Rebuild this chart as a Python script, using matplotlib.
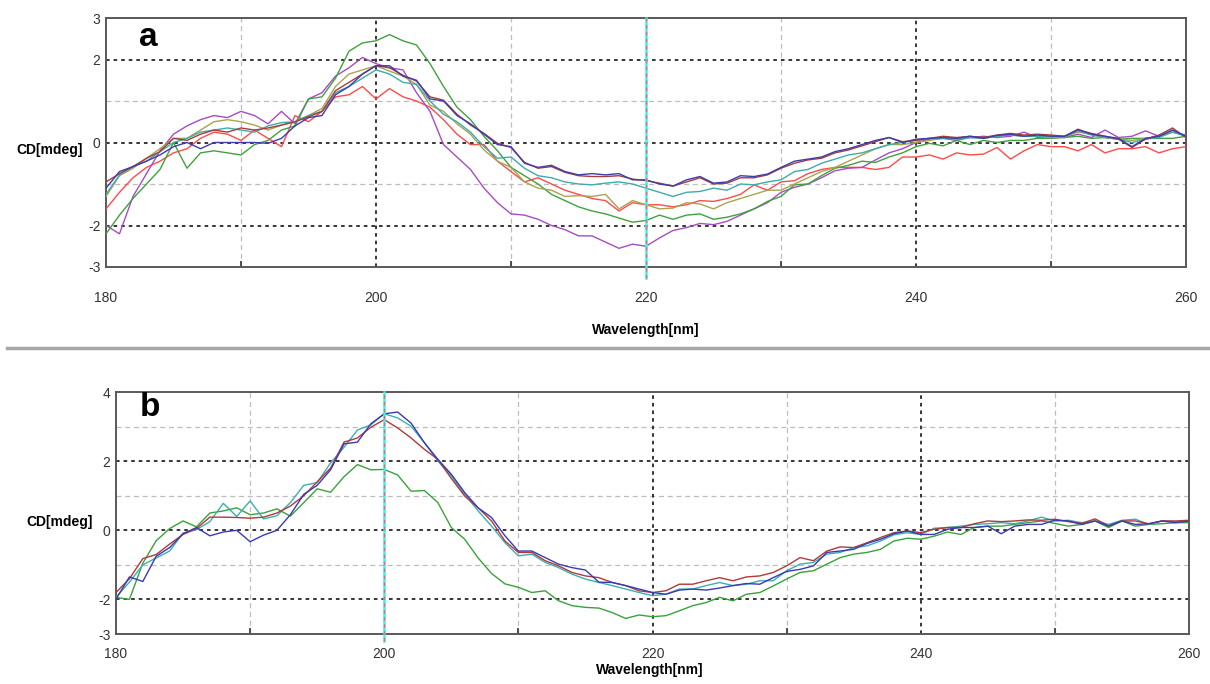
import matplotlib
matplotlib.use("Agg")
import matplotlib.pyplot as plt
from matplotlib.lines import Line2D
from matplotlib import font_manager
import numpy as np

# ---------------- data ----------------
wavelength = list(range(180, 261))

# Panel a
a_blue = [-1.1, -0.7, -0.58, -0.45, -0.3, -0.1, 0.0, -0.15, 0.0, 0.0, 0.0, 0.0, -0.02, 0.1, 0.4, 0.6, 0.65, 1.15, 1.35, 1.65, 1.85,
          1.85, 1.6, 1.5, 1.05, 1.0, 0.65, 0.45, 0.2, -0.05, -0.1, -0.5, -0.6, -0.55, -0.7, -0.78, -0.75, -0.78, -0.75, -0.9, -0.9,
          -1.0, -1.05, -0.9, -0.82, -0.98, -0.95, -0.8, -0.82, -0.76, -0.6, -0.45, -0.4, -0.35, -0.22, -0.15, -0.05, 0.05, 0.12, 0.0, 0.08,
          0.1, 0.12, 0.1, 0.15, 0.1, 0.17, 0.2, 0.15, 0.18, 0.15, 0.15, 0.32, 0.2, 0.15, 0.1, -0.1, 0.1, 0.15, 0.3, 0.15]
a_brown = [-0.95, -0.75, -0.58, -0.38, -0.22, 0.1, 0.05, 0.2, 0.3, 0.25, 0.35, 0.3, 0.35, 0.42, 0.5, 0.62, 0.75, 1.25, 1.45, 1.65, 1.85,
           1.8, 1.62, 1.48, 1.1, 1.02, 0.68, 0.42, 0.22, -0.02, -0.12, -0.48, -0.62, -0.58, -0.72, -0.8, -0.82, -0.82, -0.8, -0.88, -0.92,
           -0.98, -1.05, -0.95, -0.85, -1.0, -0.98, -0.85, -0.85, -0.78, -0.62, -0.5, -0.42, -0.38, -0.25, -0.18, -0.08, 0.02, 0.12, 0.02, 0.05,
           0.1, 0.15, 0.12, 0.15, 0.12, 0.18, 0.22, 0.18, 0.2, 0.18, 0.15, 0.3, 0.22, 0.15, 0.08, -0.12, 0.08, 0.18, 0.35, 0.12]
a_cyan = [-1.25, -0.78, -0.58, -0.45, -0.22, 0.0, 0.1, 0.25, 0.3, 0.35, 0.3, 0.25, 0.4, 0.48, 0.5, 0.65, 0.75, 1.2, 1.35, 1.55, 1.75,
          1.65, 1.45, 1.4, 1.0, 0.68, 0.5, 0.25, -0.1, -0.38, -0.35, -0.62, -0.8, -0.85, -0.95, -1.0, -1.02, -0.98, -0.95, -1.0, -1.1,
          -1.2, -1.3, -1.2, -1.18, -1.1, -1.15, -1.0, -1.02, -0.95, -0.9, -0.7, -0.65, -0.5, -0.4, -0.3, -0.25, -0.15, -0.05, 0.0, 0.05,
          0.1, 0.1, 0.08, 0.12, 0.1, 0.15, 0.18, 0.15, 0.15, 0.15, 0.12, 0.28, 0.18, 0.12, 0.08, 0.0, 0.08, 0.12, 0.25, 0.15]
a_olive = [-1.3, -0.8, -0.62, -0.38, -0.15, 0.1, 0.1, 0.3, 0.5, 0.55, 0.5, 0.42, 0.3, 0.42, 0.5, 0.65, 0.82, 1.35, 1.65, 1.75, 1.85,
           1.72, 1.6, 1.4, 0.9, 0.75, 0.45, 0.2, -0.18, -0.45, -0.6, -0.95, -1.1, -1.15, -1.3, -1.28, -1.3, -1.25, -1.6, -1.4, -1.5,
           -1.6, -1.58, -1.45, -1.48, -1.6, -1.45, -1.35, -1.25, -1.15, -1.15, -1.0, -0.85, -0.7, -0.6, -0.45, -0.3, -0.15, -0.05, -0.05, 0.0,
           0.05, 0.1, 0.1, 0.12, 0.1, 0.15, 0.18, 0.15, 0.15, 0.12, 0.15, 0.25, 0.2, 0.12, 0.08, 0.05, 0.1, 0.15, 0.3, 0.15]
a_red = [-1.6, -1.2, -0.85, -0.6, -0.45, -0.25, -0.15, 0.1, 0.25, 0.2, 0.05, 0.3, 0.1, -0.1, 0.65, 0.5, 0.75, 1.1, 1.15, 1.35, 1.05,
         1.3, 1.1, 1.0, 0.85, 0.55, 0.2, -0.05, -0.05, -0.45, -0.7, -0.95, -0.85, -1.0, -1.15, -1.25, -1.35, -1.4, -1.65, -1.45, -1.5,
         -1.5, -1.55, -1.5, -1.4, -1.42, -1.35, -1.25, -1.02, -1.15, -0.95, -0.92, -0.75, -0.65, -0.6, -0.6, -0.6, -0.65, -0.6, -0.35, -0.35,
         -0.3, -0.4, -0.25, -0.3, -0.28, -0.12, -0.4, -0.2, -0.05, -0.1, -0.1, -0.2, -0.05, -0.25, -0.15, -0.15, -0.1, -0.25, -0.15, -0.1]
a_green = [-2.2, -1.75, -1.35, -1.0, -0.65, 0.0, -0.62, -0.25, -0.2, -0.25, -0.3, -0.05, 0.05, 0.3, 0.4, 1.05, 1.1, 1.55, 2.2, 2.4, 2.45,
           2.6, 2.45, 2.35, 1.9, 1.35, 0.85, 0.55, 0.15, -0.2, -0.6, -0.8, -1.0, -1.25, -1.4, -1.55, -1.65, -1.72, -1.82, -1.92, -1.88,
           -1.75, -1.85, -1.75, -1.72, -1.85, -1.8, -1.72, -1.6, -1.42, -1.3, -1.02, -1.0, -0.8, -0.62, -0.55, -0.45, -0.48, -0.35, -0.25, -0.1,
           -0.02, -0.08, 0.05, -0.05, 0.05, 0.0, 0.05, 0.05, 0.1, 0.1, 0.12, 0.15, 0.1, 0.12, 0.08, 0.1, 0.1, 0.1, 0.1, 0.15]
a_purple = [-2.0, -2.2, -1.3, -0.75, -0.2, 0.2, 0.4, 0.55, 0.65, 0.6, 0.75, 0.65, 0.45, 0.75, 0.45, 1.05, 1.2, 1.6, 1.8, 2.05, 1.9,
            1.8, 1.75, 1.2, 0.75, -0.05, -0.35, -0.65, -1.1, -1.45, -1.72, -1.75, -1.85, -2.0, -2.1, -2.25, -2.25, -2.4, -2.55, -2.45, -2.5,
            -2.3, -2.12, -2.05, -1.95, -1.98, -1.9, -1.75, -1.6, -1.45, -1.2, -1.08, -1.0, -0.85, -0.68, -0.62, -0.6, -0.42, -0.25, -0.15, 0.0,
            0.08, 0.1, 0.05, 0.12, 0.15, 0.12, 0.15, 0.25, 0.12, 0.15, 0.12, 0.2, 0.12, 0.3, 0.12, 0.15, 0.28, 0.15, 0.25, 0.18]

# Panel b
b_red = [-1.8, -1.4, -0.82, -0.7, -0.4, -0.12, 0.05, 0.38, 0.38, 0.37, 0.35, 0.38, 0.5, 0.7, 1.0, 1.4, 1.8, 2.55, 2.67, 2.98, 3.2,
         2.96, 2.67, 2.34, 2.05, 1.5, 0.99, 0.65, 0.27, -0.31, -0.64, -0.64, -0.88, -1.03, -1.22, -1.32, -1.37, -1.51, -1.6, -1.75, -1.8,
         -1.75, -1.56, -1.56, -1.46, -1.37, -1.46, -1.35, -1.32, -1.22, -1.03, -0.79, -0.88, -0.6, -0.48, -0.5, -0.36, -0.21, -0.07, -0.02, -0.07,
         0.03, 0.08, 0.08, 0.19, 0.27, 0.25, 0.27, 0.3, 0.29, 0.32, 0.25, 0.2, 0.33, 0.13, 0.27, 0.27, 0.19, 0.27, 0.27, 0.29]
b_blue = [-1.99, -1.35, -1.48, -0.75, -0.5, -0.1, 0.08, -0.16, -0.05, 0.0, -0.33, -0.14, 0.0, 0.45, 1.04, 1.3, 1.75, 2.5, 2.55, 3.08, 3.37,
          3.42, 3.1, 2.53, 2.05, 1.62, 1.09, 0.65, 0.37, -0.16, -0.6, -0.6, -0.79, -0.98, -1.08, -1.15, -1.5, -1.51, -1.6, -1.7, -1.8,
          -1.85, -1.73, -1.7, -1.73, -1.67, -1.6, -1.54, -1.56, -1.37, -1.19, -1.13, -1.03, -0.64, -0.6, -0.55, -0.38, -0.26, -0.1, -0.02, -0.12,
          -0.12, 0.03, 0.08, 0.08, 0.12, -0.1, 0.12, 0.17, 0.17, 0.29, 0.27, 0.17, 0.27, 0.12, 0.27, 0.17, 0.19, 0.27, 0.22, 0.27]
b_cyan = [-1.94, -1.5, -1.0, -0.8, -0.6, -0.08, 0.02, 0.25, 0.78, 0.4, 0.85, 0.33, 0.42, 0.8, 1.3, 1.38, 1.95, 2.4, 2.9, 3.05, 3.37,
          3.25, 3.01, 2.53, 2.0, 1.57, 1.04, 0.56, 0.12, -0.36, -0.74, -0.69, -0.93, -1.08, -1.27, -1.41, -1.51, -1.6, -1.7, -1.8, -1.89,
          -1.85, -1.7, -1.7, -1.6, -1.51, -1.6, -1.56, -1.46, -1.46, -1.17, -0.98, -0.93, -0.69, -0.64, -0.5, -0.45, -0.31, -0.13, -0.07, -0.12,
          0.06, 0.08, 0.12, 0.17, 0.19, 0.22, 0.19, 0.27, 0.38, 0.27, 0.29, 0.22, 0.27, 0.17, 0.29, 0.32, 0.17, 0.27, 0.25, 0.27]
b_green = [-1.94, -2.0, -0.95, -0.3, 0.05, 0.27, 0.1, 0.5, 0.56, 0.65, 0.45, 0.5, 0.62, 0.41, 0.8, 1.2, 1.1, 1.55, 1.9, 1.75, 1.76,
           1.6, 1.13, 1.15, 0.8, 0.08, -0.26, -0.8, -1.25, -1.55, -1.65, -1.8, -1.75, -2.04, -2.18, -2.23, -2.25, -2.38, -2.55, -2.45, -2.5,
           -2.47, -2.33, -2.18, -2.09, -1.94, -2.04, -1.85, -1.8, -1.61, -1.41, -1.22, -1.17, -0.98, -0.79, -0.69, -0.64, -0.55, -0.31, -0.23, -0.26,
           -0.17, -0.05, -0.12, 0.08, 0.12, 0.12, 0.17, 0.22, 0.27, 0.2, 0.12, 0.17, 0.27, 0.08, 0.27, 0.12, 0.17, 0.19, 0.22, 0.22]

a_series = [(a_red, '#ff4a4a'), (a_purple, '#a64cc4'), (a_green, '#3fa23f'), (a_olive, '#a8a450'),
            (a_cyan, '#3fabab'), (a_brown, '#a23f3f'), (a_blue, '#3d3dab')]
b_series = [(b_green, '#3aa23a'), (b_cyan, '#3ab0b0'), (b_red, '#b03a3a'), (b_blue, '#3a3ab4')]

x_ticks = [180, 200, 220, 240, 260]
a_yticks = [3, 2, 0, -2, -3]
b_yticks = [4, 2, 0, -2, -3]

# ---------------- fonts ----------------
avail = {f.name for f in font_manager.fontManager.ttflist}
fam = [f for f in ['Liberation Sans Narrow', 'Liberation Sans', 'DejaVu Sans'] if f in avail]
plt.rcParams['font.family'] = fam

W, H = 1210, 684
fig = plt.figure(figsize=(W / 100, H / 100), dpi=100)


def px_axes(l, t, r, b):
    return fig.add_axes([l / W, 1 - b / H, (r - l) / W, (b - t) / H])


def style_axes(ax, ylim, yticks, major_v, minor_h, cursor_x, cursor_ext, xpad):
    ax.set_xlim(180, 260)
    ax.set_ylim(*ylim)
    # grid
    for yv in [-2, 0, 2]:
        ax.axhline(yv, color='#262626', lw=1.3, ls=(0, (2, 2.2)), zorder=1)
    for yv in minor_h:
        ax.axhline(yv, color='#bdbdbd', lw=0.9, ls=(0, (4, 3)), zorder=1)
    for xv in major_v:
        ax.axvline(xv, color='#262626', lw=1.3, ls=(0, (2, 2.2)), zorder=1)
    for xv in [190, 210, 230, 250]:
        ax.axvline(xv, color='#bdbdbd', lw=0.9, ls=(0, (4, 3)), zorder=1)
    # cursor line
    ax.axvline(cursor_x, ymin=-cursor_ext, ymax=1, color='#3ff0f0', lw=1.8, clip_on=False, zorder=5)
    ax.axvline(cursor_x, ymin=-cursor_ext, ymax=1, color='#ff6060', lw=1.0, ls=(0, (2.5, 2.5)),
               clip_on=False, zorder=6)
    ax.set_xticks(x_ticks)
    ax.set_xticklabels([str(v) for v in x_ticks])
    ax.set_xticks([190, 200, 210, 220, 230, 240, 250], minor=True)
    ax.set_yticks(yticks)
    ax.set_yticklabels([str(v) for v in yticks])
    ax.tick_params(axis='x', which='major', length=0, pad=xpad, labelsize=10, labelcolor='#333333')
    ax.tick_params(axis='x', which='minor', direction='in', length=4, width=1.2, color='#333333')
    ax.tick_params(axis='y', length=0, pad=4, labelsize=10, labelcolor='#333333')
    for s in ax.spines.values():
        s.set_color('#595959')
        s.set_linewidth(1.4)


# Panel a
axa = px_axes(106, 18, 1186, 267)
for vals, col in a_series:
    axa.plot(wavelength, vals, color=col, lw=1.0, zorder=3)
style_axes(axa, (-3, 3), a_yticks, [200, 240], [1, -1], 220, 0.045, 17)
axa.text(148 / W, 1 - 38 / H, 'a', transform=fig.transFigure, fontsize=24, fontweight='bold',
         ha='center', va='center', family=['Liberation Sans', 'DejaVu Sans'])
fig.text(646 / W, 1 - 330 / H, 'Wavelength[nm]', fontsize=10, fontweight='bold', ha='center', va='center')
fig.text(50 / W, 1 - 150 / H, 'CD[mdeg]', fontsize=10, fontweight='bold', ha='center', va='center')

# separator
fig.add_artist(Line2D([7 / W, 1.0], [1 - 348 / H, 1 - 348 / H], transform=fig.transFigure,
                      color='#a6a6a6', lw=2.5))

# Panel b
axb = px_axes(116, 392, 1189, 634)
for vals, col in b_series:
    axb.plot(wavelength, vals, color=col, lw=1.0, zorder=3)
style_axes(axb, (-3, 4), b_yticks, [220, 240], [1, -1, 3], 200, 0.027, 9)
axb.text(150 / W, 1 - 408 / H, 'b', transform=fig.transFigure, fontsize=24, fontweight='bold',
         ha='center', va='center', family=['Liberation Sans', 'DejaVu Sans'])
fig.text(650 / W, 1 - 670 / H, 'Wavelength[nm]', fontsize=10, fontweight='bold', ha='center', va='center')
fig.text(60 / W, 1 - 522 / H, 'CD[mdeg]', fontsize=10, fontweight='bold', ha='center', va='center')

fig.savefig('out.png', dpi=100)
